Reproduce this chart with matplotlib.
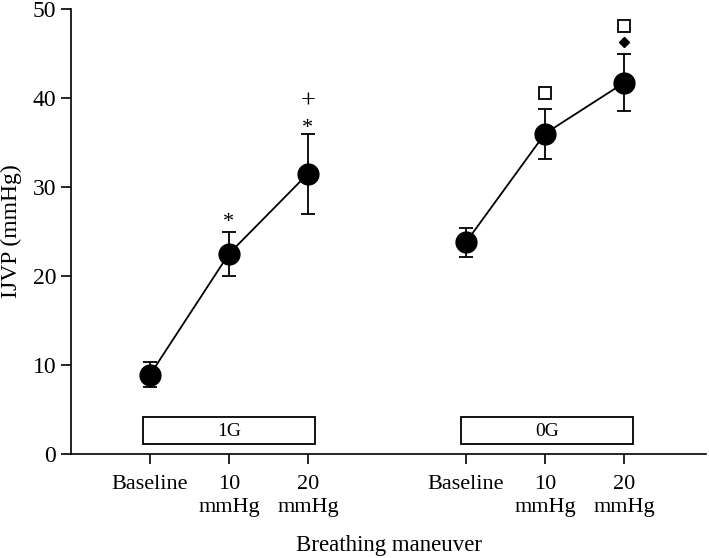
import matplotlib.pyplot as plt
from matplotlib.patches import Rectangle

plt.rcParams['font.family'] = ['Liberation Serif', 'DejaVu Serif']

# --- data ---
x_pos = [0, 1, 2, 4, 5, 6]
tick_labels = ['Baseline', '10\nmmHg', '20\nmmHg', 'Baseline', '10\nmmHg', '20\nmmHg']
ijvp_1g = [8.9, 22.5, 31.5]
err_1g = [1.4, 2.5, 4.5]
ijvp_0g = [23.8, 36.0, 41.7]
err_0g = [1.6, 2.8, 3.2]

# significance marks: (x, y, symbol, size)
marks_text = [(1, 26.0, '*', 16), (2, 36.6, '*', 16), (2, 39.6, '+', 19)]
marks_square = [(5, 40.6), (6, 48.1)]
marks_diamond = [(6, 46.3)]

fig = plt.figure(figsize=(7.09, 5.58), dpi=100)
ax = fig.add_axes([0.1, 0.186, 0.896, 0.798])

ax.errorbar(x_pos[:3], ijvp_1g, yerr=err_1g, fmt='o-', color='black', ms=15,
            lw=1.3, elinewidth=1.3, capsize=5, capthick=1.3)
ax.errorbar(x_pos[3:], ijvp_0g, yerr=err_0g, fmt='o-', color='black', ms=15,
            lw=1.3, elinewidth=1.3, capsize=5, capthick=1.3)

for x, y, s, fs in marks_text:
    ax.text(x, y, s, ha='center', va='center', fontsize=fs)
ax.plot([m[0] for m in marks_square], [m[1] for m in marks_square], 's',
        mfc='white', mec='black', ms=8, mew=1.3)
ax.plot([m[0] for m in marks_diamond], [m[1] for m in marks_diamond], 'D',
        color='black', ms=5)

# condition boxes
for x0, x1, lab in [(-0.09, 2.09, '1G'), (3.94, 6.11, '0G')]:
    ax.add_patch(Rectangle((x0, 1.1), x1 - x0, 3.05, fill=False, lw=1.3, ec='black'))
    ax.text((x0 + x1) / 2, 2.6, lab, ha='center', va='center', fontsize=14)

ax.set_xlim(-1, 7.04)
ax.set_ylim(0, 50)
ax.set_yticks([0, 10, 20, 30, 40, 50])
ax.set_xticks(x_pos)
ax.set_xticklabels(tick_labels, fontsize=16, linespacing=1.25)
ax.tick_params(axis='y', labelsize=17, length=7, width=1.2)
ax.tick_params(axis='x', length=7, width=1.2, pad=8)
for side in ['top', 'right']:
    ax.spines[side].set_visible(False)
for side in ['left', 'bottom']:
    ax.spines[side].set_linewidth(1.2)

ax.set_ylabel('IJVP (mmHg)', fontsize=17, labelpad=8)
ax.set_xlabel('Breathing maneuver', fontsize=16.5, labelpad=13)

fig.savefig('out.png', dpi=100)
